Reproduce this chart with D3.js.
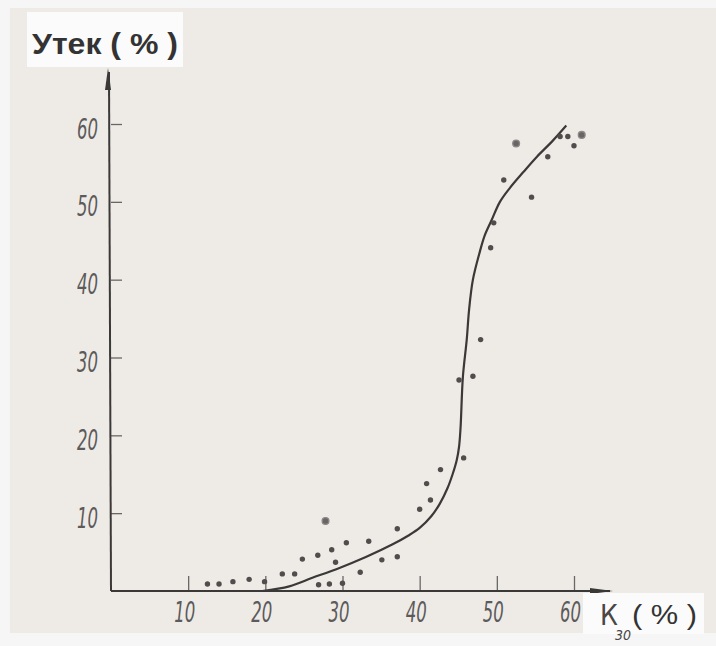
<!DOCTYPE html>
<html>
<head>
<meta charset="utf-8">
<script src="https://cdn.jsdelivr.net/npm/d3@7"></script>
<style>
  html, body { margin: 0; padding: 0; background: #ffffff; }
  svg { display: block; }
</style>
</head>
<body>
<svg id="chart" width="716" height="646"></svg>
<script>
// ---- data ----
const xTicks = [10, 20, 30, 40, 50, 60];
const yTicks = [10, 20, 30, 40, 50, 60];
const yLabel = "Утек ( % )";
const xLabelSymbol = "К";
const xLabelSub = "30";
const xLabelUnit = "( % )";

// scatter points (K30 %, leakage %)
const pointX = [12.5, 14.0, 15.8, 17.9, 19.9, 22.2, 23.8, 24.8, 26.8, 27.8, 28.6, 29.1, 26.9, 28.3, 30.0,
                30.5, 32.3, 33.4, 35.1, 37.1, 37.1, 40.0, 40.9, 41.4, 42.7, 45.7, 45.1, 46.9, 47.9, 49.2,
                49.6, 50.9, 54.5, 52.5, 56.6, 58.2, 59.2, 60.0, 61.0];
const pointY = [0.9, 0.9, 1.2, 1.5, 1.2, 2.2, 2.2, 4.1, 4.6, 9.0, 5.3, 3.7, 0.8, 0.9, 1.0,
                6.2, 2.4, 6.4, 4.0, 8.0, 4.4, 10.5, 13.8, 11.7, 15.6, 17.1, 27.1, 27.6, 32.3, 44.1,
                47.3, 52.8, 50.6, 57.5, 55.8, 58.4, 58.4, 57.2, 58.6];
const ringed = [false, false, false, false, false, false, false, false, false, true, false, false, false, false, false,
                false, false, false, false, false, false, false, false, false, false, false, false, false, false, false,
                false, false, false, true, false, false, false, false, true];

// fitted curve
const curveX = [19.6, 23.1, 26.1, 29.2, 33.1, 36.5, 38.5, 40.0, 41.5, 42.6, 43.6, 44.3, 44.8, 45.1, 45.3, 45.6,
                46.1, 46.4, 46.9, 47.8, 48.4, 49.3, 50.4, 51.7, 53.5, 55.2, 57.2, 59.0];
const curveY = [0.0, 0.6, 1.7, 2.8, 4.4, 6.0, 7.1, 8.1, 9.6, 11.2, 13.2, 15.1, 16.8, 18.5, 21.0, 27.5,
                32.3, 36.1, 40.0, 43.6, 45.6, 47.6, 50.0, 51.8, 53.9, 55.8, 57.8, 59.8];

// ---- drawing ----
const svg = d3.select("#chart");
const paper = "#eeebe7";
const ink = "#3b3838";
const tickFont = "'Liberation Sans Narrow', 'DejaVu Sans Condensed', sans-serif";

// paper sheet
svg.append("rect").attr("x", 0).attr("y", 0).attr("width", 716).attr("height", 646).attr("fill", "#f6f6f6");
svg.append("rect").attr("x", 10).attr("y", 8).attr("width", 706).attr("height", 625).attr("fill", paper);

const x = d3.scaleLinear().domain([0, 60]).range([111, 574]);
const y = d3.scaleLinear().domain([0, 60]).range([591, 124]);

// x axis
const gx = svg.append("g").attr("transform", `translate(0,${y(0)})`)
  .call(d3.axisBottom(x).tickValues(xTicks).tickSizeInner(-15).tickSizeOuter(0).tickPadding(11));
gx.select(".domain").remove();
gx.selectAll(".tick line").attr("stroke", "#6a6666").attr("stroke-width", 1.3);
gx.selectAll(".tick text")
  .attr("fill", "#5c5a5a")
  .attr("font-family", tickFont)
  .attr("font-style", "italic")
  .attr("font-size", 28)
  .attr("textLength", 21).attr("lengthAdjust", "spacingAndGlyphs")
  .attr("dx", -4);

// y axis
const gy = svg.append("g").attr("transform", `translate(${x(0)},0)`)
  .call(d3.axisLeft(y).tickValues(yTicks).tickSizeInner(-11).tickSizeOuter(0).tickPadding(13));
gy.select(".domain").remove();
gy.selectAll(".tick line").attr("stroke", "#6a6666").attr("stroke-width", 1.3);
gy.selectAll(".tick text")
  .attr("fill", "#5c5a5a")
  .attr("font-family", tickFont)
  .attr("font-style", "italic")
  .attr("font-size", 28)
  .attr("textLength", 21).attr("lengthAdjust", "spacingAndGlyphs")
  .attr("dy", "0.5em");

// axis lines with arrows
svg.append("line").attr("x1", x(0)).attr("y1", y(0)).attr("x2", 610).attr("y2", y(0))
  .attr("stroke", ink).attr("stroke-width", 2);
svg.append("line").attr("x1", x(0)).attr("y1", y(0)).attr("x2", x(0) - 2).attr("y2", 72)
  .attr("stroke", ink).attr("stroke-width", 2);
svg.append("path")
  .attr("d", `M${x(0) - 3},68 L${x(0) - 6},90 L${x(0)},90 Z`)
  .attr("fill", ink);
svg.append("path")
  .attr("d", `M613,${y(0)} L590,${y(0) - 3} L590,${y(0) + 3} Z`)
  .attr("fill", ink);

// fitted curve
const curvePts = curveX.map((v, i) => [v, curveY[i]]);
svg.append("path")
  .datum(curvePts)
  .attr("d", d3.line().x(d => x(d[0])).y(d => y(d[1])).curve(d3.curveCatmullRom.alpha(0.5)))
  .attr("fill", "none").attr("stroke", ink).attr("stroke-width", 2.2);

// points
const pts = pointX.map((v, i) => ({ x: v, y: pointY[i], r: ringed[i] }));
svg.append("g").selectAll("circle").data(pts).join("circle")
  .attr("cx", d => x(d.x)).attr("cy", d => y(d.y))
  .attr("r", d => d.r ? 3.4 : 2.7)
  .attr("fill", d => d.r ? "#6a6464" : "#514d4d")
  .attr("stroke", d => d.r ? "#8d8888" : "none")
  .attr("stroke-width", 1.3);

// y label box
svg.append("rect").attr("x", 27).attr("y", 12).attr("width", 156).attr("height", 55).attr("fill", "#fbfbfb");
svg.append("text").attr("x", 32).attr("y", 54)
  .attr("font-family", "'Liberation Sans', Arial, sans-serif").attr("font-weight", "bold")
  .attr("font-size", 29).attr("fill", "#333")
  .attr("textLength", 146).attr("lengthAdjust", "spacingAndGlyphs")
  .text(yLabel);

// x label box
svg.append("rect").attr("x", 583).attr("y", 593).attr("width", 121).attr("height", 41).attr("fill", "#fbfbfb");
svg.append("text").attr("x", 600).attr("y", 625)
  .attr("font-family", tickFont)
  .attr("font-size", 28).attr("fill", "#4a4646")
  .text(xLabelSymbol);
svg.append("text").attr("x", 615).attr("y", 640)
  .attr("font-family", tickFont)
  .attr("font-style", "italic").attr("font-size", 14).attr("fill", "#4a4646")
  .text(xLabelSub);
svg.append("text").attr("x", 632).attr("y", 624)
  .attr("font-family", "'Liberation Sans', Arial, sans-serif")
  .attr("font-size", 28).attr("fill", "#333")
  .attr("textLength", 65).attr("lengthAdjust", "spacingAndGlyphs")
  .text(xLabelUnit);
</script>
</body>
</html>
